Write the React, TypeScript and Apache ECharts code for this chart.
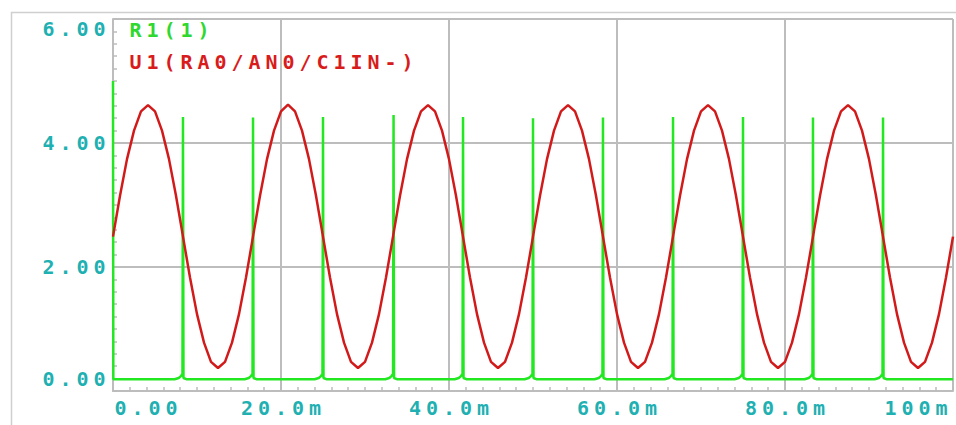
import { useEffect, useRef } from "react";
import * as echarts from "echarts";

// Axis tick labels (time in ms on x, volts on y)
const xTickLabels = ["0.00", "20.0m", "40.0m", "60.0m", "80.0m", "100m"];
const yTickLabels = ["0.00", "2.00", "4.00", "6.00"];

const seriesNames = ["R1(1)", "U1(RA0/AN0/C1IN-)"];

// U1 analog input, sampled every 100/120 ms
const U1_STEP_MS = 100 / 120;
const u1Volts = [
  2.49, 3.15, 3.74, 4.2, 4.51, 4.61, 4.51, 4.2, 3.74, 3.15, 2.49, 1.83, 1.24, 0.78, 0.47, 0.37, 0.47, 0.78, 1.24, 1.83,
  2.49, 3.15, 3.74, 4.2, 4.51, 4.62, 4.51, 4.2, 3.74, 3.15, 2.49, 1.83, 1.24, 0.78, 0.47, 0.37, 0.47, 0.78, 1.24, 1.83,
  2.49, 3.15, 3.74, 4.2, 4.51, 4.61, 4.51, 4.2, 3.74, 3.15, 2.49, 1.83, 1.24, 0.78, 0.47, 0.37, 0.47, 0.78, 1.24, 1.83,
  2.49, 3.15, 3.74, 4.2, 4.51, 4.61, 4.51, 4.2, 3.74, 3.15, 2.49, 1.83, 1.24, 0.78, 0.47, 0.37, 0.47, 0.78, 1.24, 1.83,
  2.49, 3.15, 3.74, 4.2, 4.51, 4.61, 4.51, 4.2, 3.74, 3.15, 2.49, 1.83, 1.24, 0.78, 0.47, 0.37, 0.47, 0.78, 1.24, 1.83,
  2.49, 3.15, 3.74, 4.2, 4.51, 4.61, 4.51, 4.2, 3.74, 3.15, 2.49, 1.83, 1.24, 0.78, 0.47, 0.37, 0.47, 0.78, 1.24, 1.83,
  2.49,
];

// R1 node: start-up pulse, short pulses at each zero crossing, low floor in between
const r1StartVolts = 5.0;
const r1SpikeMs = [8.33, 16.67, 25.0, 33.4, 41.67, 50.0, 58.33, 66.67, 75.0, 83.33, 91.67];
const r1SpikeVolts = [4.42, 4.41, 4.42, 4.45, 4.42, 4.4, 4.41, 4.42, 4.42, 4.41, 4.41];
const r1FloorVolts = 0.19;
const r1FootVolts = [0.21, 0.24, 0.28];
const T_END_MS = 100;

const GREEN = "#22e822";
const RED = "#d21a1a";
const TEAL = "#1fb0b2";
const GRID = "#bdbdbd";
const FONT = "DejaVu Sans Mono";

function buildU1(): [number, number][] {
  return u1Volts.map((v, i) => [i * U1_STEP_MS, v]);
}

function buildR1(): [number, number][] {
  const pts: [number, number][] = [
    [0, r1StartVolts],
    [0.04, r1FloorVolts],
  ];
  r1SpikeMs.forEach((t, i) => {
    pts.push([t - 1.0, r1FloorVolts]);
    pts.push([t - 0.5, r1FootVolts[0]]);
    pts.push([t - 0.25, r1FootVolts[1]]);
    pts.push([t - 0.06, r1FootVolts[2]]);
    pts.push([t, r1SpikeVolts[i]]);
    pts.push([t + 0.06, 0.21]);
    pts.push([t + 0.4, r1FloorVolts]);
  });
  pts.push([T_END_MS, r1FloorVolts]);
  return pts;
}

// Fixed-pitch character cells, so every glyph sits in a 17px box
const cells = (s: string, style: string) =>
  s
    .split("")
    .map((ch) => `{${style}|${ch}}`)
    .join("");

const cell = (color: string) => ({
  width: 17,
  align: "center" as const,
  fontFamily: FONT,
  fontWeight: "bold" as const,
  fontSize: 20,
  lineHeight: 18,
  color,
});

export default function App() {
  const ref = useRef<HTMLDivElement>(null);

  useEffect(() => {
    if (!ref.current) return;
    const chart = echarts.init(ref.current, undefined, { renderer: "svg" });

    const option: echarts.EChartsOption = {
      animation: false,
      backgroundColor: "#ffffff",
      graphic: [
        {
          type: "rect",
          left: 9,
          top: 10,
          shape: { width: 1000, height: 1000 },
          style: { fill: "none", stroke: "#cfcfcf", lineWidth: 1.5 },
          silent: true,
          z: -1,
        },
      ],
      grid: { left: 113, right: 3, top: 19, bottom: 34, outerBoundsMode: "none" } as any,
      legend: {
        orient: "vertical",
        left: 121,
        top: 20,
        padding: 0,
        itemGap: 12,
        itemWidth: 0,
        itemHeight: 0,
        selectedMode: false,
        itemStyle: { opacity: 0 },
        lineStyle: { opacity: 0 },
        data: seriesNames,
        formatter: (name: string) => cells(name, name === seriesNames[0] ? "g" : "r"),
        textStyle: {
          rich: { g: cell("#2ed82e"), r: cell("#d81c1c") },
        },
      },
      xAxis: {
        type: "value",
        min: 0,
        max: 100,
        interval: 20,
        axisLine: { show: true, lineStyle: { color: GRID, width: 2 } },
        axisTick: { show: true, inside: true, length: 4, lineStyle: { color: GRID, width: 1.5 } },
        minorTick: { show: true, splitNumber: 10, length: 4, lineStyle: { color: GRID, width: 1.5 } },
        splitLine: { show: true, lineStyle: { color: GRID, width: 2 } },
        axisLabel: {
          margin: 8,
          formatter: (v: number) => {
            const i = Math.round(v / 20);
            const txt = cells(xTickLabels[i], "c");
            if (i === 0) return `{hl| }${txt}`;
            if (i === xTickLabels.length - 1) return `${txt}{hr| }`;
            return txt;
          },
          rich: {
            c: cell(TEAL),
            hl: { width: 66, lineHeight: 18 },
            hr: { width: 74, lineHeight: 18 },
          },
        },
      },
      yAxis: {
        type: "value",
        min: 0,
        max: 6,
        interval: 2,
        axisLine: { show: true, lineStyle: { color: GRID, width: 2 } },
        axisTick: { show: true, inside: true, length: 4, lineStyle: { color: GRID, width: 1.5 } },
        minorTick: { show: true, splitNumber: 10, length: 4, lineStyle: { color: GRID, width: 1.5 } },
        splitLine: { show: true, lineStyle: { color: GRID, width: 2 } },
        axisLabel: {
          margin: 5,
          formatter: (v: number) => {
            const i = Math.round(v / 2);
            const txt = cells(yTickLabels[i], "c");
            if (i === yTickLabels.length - 1) return `{vt| }\n${txt}`;
            if (i === 0) return `${txt}\n{vb| }`;
            return txt;
          },
          rich: {
            c: cell(TEAL),
            vt: { lineHeight: 20, fontSize: 1 },
            vb: { lineHeight: 24, fontSize: 1 },
          },
        },
      },
      series: [
        {
          name: seriesNames[0],
          type: "line",
          data: buildR1(),
          showSymbol: false,
          lineStyle: { color: GREEN, width: 2.5 },
          itemStyle: { color: GREEN },
          z: 2,
        },
        {
          name: seriesNames[1],
          type: "line",
          data: buildU1(),
          showSymbol: false,
          lineStyle: { color: RED, width: 2.5 },
          itemStyle: { color: RED },
          z: 3,
        },
      ],
    };

    chart.setOption(option);
    return () => chart.dispose();
  }, []);

  return (
    <div
      ref={ref}
      style={{ position: "fixed", left: 0, top: 0, width: 956, height: 425, background: "#fff" }}
    />
  );
}
